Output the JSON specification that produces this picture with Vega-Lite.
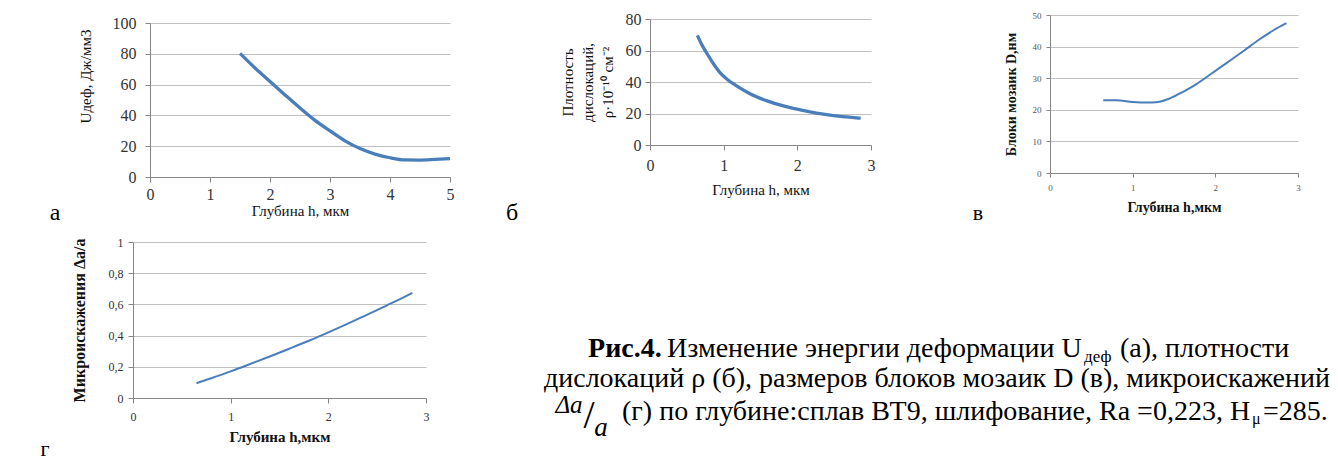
{
  "$schema": "https://vega.github.io/schema/vega-lite/v6.json",
  "width": 1338,
  "height": 462,
  "autosize": {"type": "none"},
  "padding": 0,
  "background": "white",
  "config": {
    "view": {"stroke": null},
    "axis": {
      "labelFont": "Liberation Serif",
      "titleFont": "Liberation Serif",
      "domainColor": "#868686",
      "tickColor": "#868686",
      "gridColor": "#c0c0c0",
      "labelFlush": false,
      "labelOverlap": false,
      "titleFontWeight": "normal",
      "labelColor": "#333333",
      "titleColor": "#111111"
    },
    "text": {"font": "Liberation Serif", "color": "#000000"}
  },
  "resolve": {
    "scale": {"x": "independent", "y": "independent"},
    "axis": {"x": "independent", "y": "independent"}
  },
  "layer": [
    {
      "data": {"values": [
        {"h": 1.5, "v": 80.3}, {"h": 1.75, "v": 70.8}, {"h": 2.0, "v": 62.0}, {"h": 2.25, "v": 53.3},
        {"h": 2.5, "v": 44.8}, {"h": 2.75, "v": 36.8}, {"h": 3.0, "v": 30.0}, {"h": 3.25, "v": 23.5},
        {"h": 3.5, "v": 18.5}, {"h": 3.75, "v": 14.9}, {"h": 4.0, "v": 12.5}, {"h": 4.25, "v": 11.1},
        {"h": 4.5, "v": 11.0}, {"h": 4.75, "v": 11.4}, {"h": 5.0, "v": 11.9}
      ]},
      "mark": {"type": "line", "interpolate": "monotone", "color": "#4a7ebb", "strokeWidth": 3.3},
      "encoding": {
        "x": {"field": "h", "type": "quantitative",
          "scale": {"domain": [0, 5], "range": [150, 450], "nice": false, "zero": false},
          "axis": {"orient": "bottom", "offset": -285, "values": [0, 1, 2, 3, 4, 5], "grid": false, "tickSize": 5,
            "labelFont": "Liberation Serif", "labelFontSize": 16, "labelPadding": 4, "title": "Глубина h, мкм", "titleFontSize": 15, "titlePadding": 1}},
        "y": {"field": "v", "type": "quantitative",
          "scale": {"domain": [0, 100], "range": [177, 23], "nice": false, "zero": false},
          "axis": {"orient": "left", "offset": -150, "values": [0, 20, 40, 60, 80, 100], "grid": true, "tickSize": 5,
            "labelFont": "Liberation Serif", "labelFontSize": 16, "labelPadding": 9, "title": "Uдеф, Дж/мм3", "titleFontSize": 15, "titlePadding": 19, "titleY": 76}}
      }
    },
    {
      "data": {"values": [
        {"h": 0.643, "v": 69.6}, {"h": 0.7, "v": 64.0}, {"h": 0.77, "v": 58.4}, {"h": 0.85, "v": 52.4},
        {"h": 0.95, "v": 46.0}, {"h": 1.05, "v": 41.6}, {"h": 1.154, "v": 38.2}, {"h": 1.357, "v": 32.6},
        {"h": 1.58, "v": 28.2}, {"h": 1.81, "v": 24.8}, {"h": 2.04, "v": 22.3}, {"h": 2.26, "v": 20.3},
        {"h": 2.49, "v": 18.7}, {"h": 2.67, "v": 17.8}, {"h": 2.86, "v": 17.0}
      ]},
      "mark": {"type": "line", "interpolate": "monotone", "color": "#4a7ebb", "strokeWidth": 3.3},
      "encoding": {
        "x": {"field": "h", "type": "quantitative",
          "scale": {"domain": [0, 3], "range": [650, 871], "nice": false, "zero": false},
          "axis": {"orient": "bottom", "offset": -317, "values": [0, 1, 2, 3], "grid": false, "tickSize": 5,
            "labelFont": "Liberation Serif", "labelFontSize": 16, "labelPadding": 7, "title": "Глубина h, мкм", "titleFontSize": 15, "titlePadding": 9}},
        "y": {"field": "v", "type": "quantitative",
          "scale": {"domain": [0, 80], "range": [145, 19], "nice": false, "zero": false},
          "axis": {"orient": "left", "offset": -650, "values": [0, 20, 40, 60, 80], "grid": true, "tickSize": 5,
            "labelFont": "Liberation Serif", "labelFontSize": 16, "labelPadding": 4, "title": ["Плотность", "дислокаций,", "ρ·10⁻¹⁰ см⁻²"],
            "titleFontSize": 15, "titleLineHeight": 20, "titlePadding": 10}}
      }
    },
    {
      "data": {"values": [
        {"h": 0.644, "v": 23.0}, {"h": 0.805, "v": 23.0}, {"h": 1.0, "v": 22.5}, {"h": 1.17, "v": 22.3},
        {"h": 1.31, "v": 22.5}, {"h": 1.45, "v": 23.6}, {"h": 1.61, "v": 25.7}, {"h": 1.77, "v": 28.1},
        {"h": 1.93, "v": 31.0}, {"h": 2.13, "v": 34.7}, {"h": 2.34, "v": 38.6}, {"h": 2.54, "v": 42.4},
        {"h": 2.7, "v": 45.1}, {"h": 2.86, "v": 47.4}
      ]},
      "mark": {"type": "line", "interpolate": "monotone", "color": "#4a7ebb", "strokeWidth": 2},
      "encoding": {
        "x": {"field": "h", "type": "quantitative",
          "scale": {"domain": [0, 3], "range": [1050, 1298], "nice": false, "zero": false},
          "axis": {"orient": "bottom", "offset": -289, "values": [0, 1, 2, 3], "grid": false, "tickSize": 4,
            "labelFont": "Liberation Serif", "labelFontSize": 9, "labelColor": "#595959", "labelPadding": 6, "title": "Глубина h,мкм",
            "titleFontSize": 14, "titleFontWeight": "bold", "titlePadding": 8}},
        "y": {"field": "v", "type": "quantitative",
          "scale": {"domain": [0, 50], "range": [173, 15], "nice": false, "zero": false},
          "axis": {"orient": "left", "offset": -1050, "values": [0, 10, 20, 30, 40, 50], "grid": true, "tickSize": 4,
            "labelFont": "Liberation Serif", "labelFontSize": 9, "labelColor": "#595959", "labelPadding": 5, "title": "Блоки мозаик D,нм",
            "titleFontSize": 14, "titleFontWeight": "bold", "titlePadding": 14}}
      }
    },
    {
      "data": {"values": [
        {"h": 0.65, "v": 0.095}, {"h": 0.8, "v": 0.127}, {"h": 1.0, "v": 0.171}, {"h": 1.2, "v": 0.218},
        {"h": 1.4, "v": 0.266}, {"h": 1.6, "v": 0.316}, {"h": 1.8, "v": 0.367}, {"h": 2.0, "v": 0.421},
        {"h": 2.2, "v": 0.477}, {"h": 2.4, "v": 0.534}, {"h": 2.6, "v": 0.594}, {"h": 2.8, "v": 0.655},
        {"h": 2.86, "v": 0.674}
      ]},
      "mark": {"type": "line", "interpolate": "monotone", "color": "#4a7ebb", "strokeWidth": 2},
      "encoding": {
        "x": {"field": "h", "type": "quantitative",
          "scale": {"domain": [0, 3], "range": [133, 426], "nice": false, "zero": false},
          "axis": {"orient": "bottom", "offset": -64, "values": [0, 1, 2, 3], "grid": false, "tickSize": 5,
            "labelFont": "Liberation Serif", "labelFontSize": 12, "labelPadding": 8, "title": "Глубина h,мкм",
            "titleFontSize": 15, "titleFontWeight": "bold", "titlePadding": 7}},
        "y": {"field": "v", "type": "quantitative",
          "scale": {"domain": [0, 1], "range": [398, 242], "nice": false, "zero": false},
          "axis": {"orient": "left", "offset": -133, "values": [0, 0.2, 0.4, 0.6, 0.8, 1], "grid": true, "tickSize": 5,
            "labelFont": "Liberation Serif", "labelFontSize": 12, "labelPadding": 5,
            "labelExpr": "datum.value == 0 ? '0' : datum.value == 1 ? '1' : replace(format(datum.value, '.1f'), '.', ',')",
            "title": "Микроискажения Δa/a", "titleFontSize": 16, "titleFontWeight": "bold", "titlePadding": 21}}
      }
    },
    {
      "data": {"values": [{"t": "а"}]},
      "mark": {"type": "text", "fontSize": 24, "align": "center", "baseline": "middle"},
      "encoding": {
        "x": {"datum": -1.583, "type": "quantitative", "axis": null, "scale": {"domain": [0, 5], "range": [150, 450], "nice": false, "zero": false}},
        "y": {"datum": -23.4, "type": "quantitative", "axis": null, "scale": {"domain": [0, 100], "range": [177, 23], "nice": false, "zero": false}},
        "text": {"field": "t"}
      }
    },
    {
      "data": {"values": [{"t": "б"}]},
      "mark": {"type": "text", "fontSize": 24, "align": "center", "baseline": "middle"},
      "encoding": {
        "x": {"datum": -1.873, "type": "quantitative", "axis": null, "scale": {"domain": [0, 3], "range": [650, 871], "nice": false, "zero": false}},
        "y": {"datum": -43.2, "type": "quantitative", "axis": null, "scale": {"domain": [0, 80], "range": [145, 19], "nice": false, "zero": false}},
        "text": {"field": "t"}
      }
    },
    {
      "data": {"values": [{"t": "в"}]},
      "mark": {"type": "text", "fontSize": 22, "align": "center", "baseline": "middle"},
      "encoding": {
        "x": {"datum": -0.871, "type": "quantitative", "axis": null, "scale": {"domain": [0, 3], "range": [1050, 1298], "nice": false, "zero": false}},
        "y": {"datum": -12.66, "type": "quantitative", "axis": null, "scale": {"domain": [0, 50], "range": [173, 15], "nice": false, "zero": false}},
        "text": {"field": "t"}
      }
    },
    {
      "data": {"values": [{"t": "г"}]},
      "mark": {"type": "text", "fontSize": 22, "align": "center", "baseline": "middle"},
      "encoding": {
        "x": {"datum": -0.901, "type": "quantitative", "axis": null, "scale": {"domain": [0, 3], "range": [133, 426], "nice": false, "zero": false}},
        "y": {"datum": -0.327, "type": "quantitative", "axis": null, "scale": {"domain": [0, 1], "range": [398, 242], "nice": false, "zero": false}},
        "text": {"field": "t"}
      }
    },
    {
      "data": {"values": [{"t": "Рис.4."}]},
      "mark": {"type": "text", "fontSize": 28, "fontWeight": "bold", "align": "left", "baseline": "middle"},
      "encoding": {
        "x": {"datum": 4.659, "type": "quantitative", "axis": null, "scale": {"domain": [0, 3], "range": [133, 426], "nice": false, "zero": false}},
        "y": {"datum": 0.3141, "type": "quantitative", "axis": null, "scale": {"domain": [0, 1], "range": [398, 242], "nice": false, "zero": false}},
        "text": {"field": "t"}
      }
    },
    {
      "data": {"values": [{"t": "Изменение энергии деформации  U"}]},
      "mark": {"type": "text", "fontSize": 28, "align": "left", "baseline": "middle"},
      "encoding": {
        "x": {"datum": 5.468, "type": "quantitative", "axis": null, "scale": {"domain": [0, 3], "range": [133, 426], "nice": false, "zero": false}},
        "y": {"datum": 0.3141, "type": "quantitative", "axis": null, "scale": {"domain": [0, 1], "range": [398, 242], "nice": false, "zero": false}},
        "text": {"field": "t"}
      }
    },
    {
      "data": {"values": [{"t": "деф"}]},
      "mark": {"type": "text", "fontSize": 17, "align": "left", "baseline": "middle"},
      "encoding": {
        "x": {"datum": 9.737, "type": "quantitative", "axis": null, "scale": {"domain": [0, 3], "range": [133, 426], "nice": false, "zero": false}},
        "y": {"datum": 0.2628, "type": "quantitative", "axis": null, "scale": {"domain": [0, 1], "range": [398, 242], "nice": false, "zero": false}},
        "text": {"field": "t"}
      }
    },
    {
      "data": {"values": [{"t": "(а), плотности"}]},
      "mark": {"type": "text", "fontSize": 28, "align": "left", "baseline": "middle"},
      "encoding": {
        "x": {"datum": 10.106, "type": "quantitative", "axis": null, "scale": {"domain": [0, 3], "range": [133, 426], "nice": false, "zero": false}},
        "y": {"datum": 0.3141, "type": "quantitative", "axis": null, "scale": {"domain": [0, 1], "range": [398, 242], "nice": false, "zero": false}},
        "text": {"field": "t"}
      }
    },
    {
      "data": {"values": [{"t": "дислокаций ρ (б), размеров блоков мозаик D (в), микроискажений"}]},
      "mark": {"type": "text", "fontSize": 28, "align": "center", "baseline": "middle"},
      "encoding": {
        "x": {"datum": 8.232, "type": "quantitative", "axis": null, "scale": {"domain": [0, 3], "range": [133, 426], "nice": false, "zero": false}},
        "y": {"datum": 0.1218, "type": "quantitative", "axis": null, "scale": {"domain": [0, 1], "range": [398, 242], "nice": false, "zero": false}},
        "text": {"field": "t"}
      }
    },
    {
      "data": {"values": [{"t": "Δa"}]},
      "mark": {"type": "text", "fontSize": 25, "fontStyle": "italic", "align": "center", "baseline": "middle"},
      "encoding": {
        "x": {"datum": 4.464, "type": "quantitative", "axis": null, "scale": {"domain": [0, 3], "range": [133, 426], "nice": false, "zero": false}},
        "y": {"datum": -0.0449, "type": "quantitative", "axis": null, "scale": {"domain": [0, 1], "range": [398, 242], "nice": false, "zero": false}},
        "text": {"field": "t"}
      }
    },
    {
      "data": {"values": [{"t": "/"}]},
      "mark": {"type": "text", "fontSize": 40, "align": "center", "baseline": "middle"},
      "encoding": {
        "x": {"datum": 4.669, "type": "quantitative", "axis": null, "scale": {"domain": [0, 3], "range": [133, 426], "nice": false, "zero": false}},
        "y": {"datum": -0.1154, "type": "quantitative", "axis": null, "scale": {"domain": [0, 1], "range": [398, 242], "nice": false, "zero": false}},
        "text": {"field": "t"}
      }
    },
    {
      "data": {"values": [{"t": "a"}]},
      "mark": {"type": "text", "fontSize": 27, "fontStyle": "italic", "align": "center", "baseline": "middle"},
      "encoding": {
        "x": {"datum": 4.792, "type": "quantitative", "axis": null, "scale": {"domain": [0, 3], "range": [133, 426], "nice": false, "zero": false}},
        "y": {"datum": -0.1923, "type": "quantitative", "axis": null, "scale": {"domain": [0, 1], "range": [398, 242], "nice": false, "zero": false}},
        "text": {"field": "t"}
      }
    },
    {
      "data": {"values": [{"t": "(г) по глубине:сплав ВТ9, шлифование, Ra =0,223, H"}]},
      "mark": {"type": "text", "fontSize": 28, "align": "left", "baseline": "middle"},
      "encoding": {
        "x": {"datum": 5.007, "type": "quantitative", "axis": null, "scale": {"domain": [0, 3], "range": [133, 426], "nice": false, "zero": false}},
        "y": {"datum": -0.0897, "type": "quantitative", "axis": null, "scale": {"domain": [0, 1], "range": [398, 242], "nice": false, "zero": false}},
        "text": {"field": "t"}
      }
    },
    {
      "data": {"values": [{"t": "μ"}]},
      "mark": {"type": "text", "fontSize": 16, "align": "left", "baseline": "middle"},
      "encoding": {
        "x": {"datum": 11.457, "type": "quantitative", "axis": null, "scale": {"domain": [0, 3], "range": [133, 426], "nice": false, "zero": false}},
        "y": {"datum": -0.1346, "type": "quantitative", "axis": null, "scale": {"domain": [0, 1], "range": [398, 242], "nice": false, "zero": false}},
        "text": {"field": "t"}
      }
    },
    {
      "data": {"values": [{"t": "=285."}]},
      "mark": {"type": "text", "fontSize": 28, "align": "left", "baseline": "middle"},
      "encoding": {
        "x": {"datum": 11.57, "type": "quantitative", "axis": null, "scale": {"domain": [0, 3], "range": [133, 426], "nice": false, "zero": false}},
        "y": {"datum": -0.0897, "type": "quantitative", "axis": null, "scale": {"domain": [0, 1], "range": [398, 242], "nice": false, "zero": false}},
        "text": {"field": "t"}
      }
    }
  ]
}
